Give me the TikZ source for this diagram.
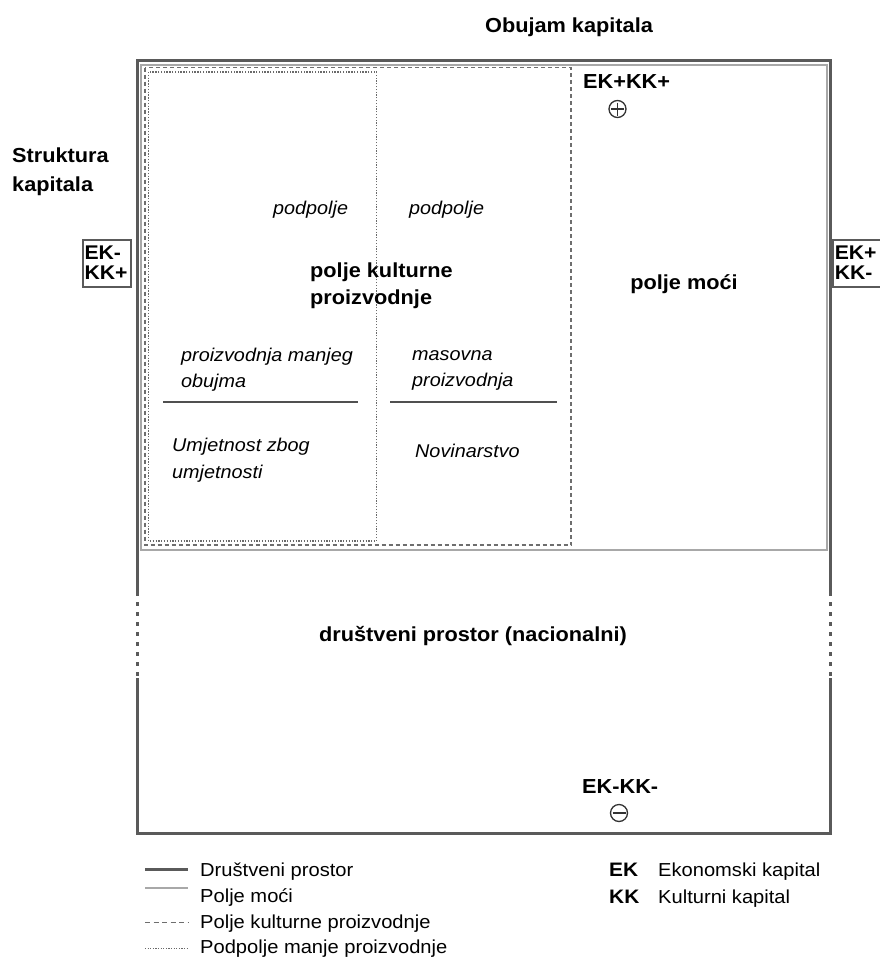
\documentclass[tikz,border=0pt]{standalone}
\usepackage{fontspec}
\setmainfont{Liberation Sans}[FakeStretch=1.07]
\definecolor{outerc}{HTML}{5A5A5A}
\definecolor{lightc}{HTML}{A8A8A8}
\definecolor{dashc}{HTML}{6E6E6E}
\definecolor{dotc}{HTML}{6A6A6A}
\definecolor{rulec}{HTML}{505050}
\begin{document}
\begin{tikzpicture}[x=1pt,y=-1pt,
  bt/.style={font=\fontsize{20.3}{27}\selectfont\bfseries, inner sep=0, align=left},
  it/.style={font=\fontsize{18.5}{26}\selectfont\itshape, inner sep=0, align=left},
  lg/.style={font=\fontsize{18.8}{22}\selectfont, inner sep=0},
  lgb/.style={font=\fontsize{19.5}{22}\selectfont\bfseries, inner sep=0},
  outerline/.style={draw=outerc, line width=3},
  lightline/.style={draw=lightc, line width=2},
  dashline/.style={draw=dashc, line width=1.6, dash pattern=on 4 off 3},
  dotline/.style={draw=dotc, line width=1.2, dash pattern=on 1.3 off 1.5},
  rule/.style={draw=rulec, line width=2.2},
  sidebox/.style={draw=outerc, line width=2, minimum width=48, minimum height=47,
    text width=45, align=left, inner sep=1.5,
    font=\fontsize{19.8}{20}\selectfont\bfseries},
  sym/.style={circle, draw=black!80, line width=1.3, minimum size=17, inner sep=0}
]
\useasboundingbox (0,0) rectangle (880,961);
\clip (0,0) rectangle (880,961);
\fill[white] (0,0) rectangle (880,961);

% društveni prostor (outer)
\draw[outerline] (137,592) -- (137,60.5) -- (830,60.5) -- (830,592);
\draw[outerline] (830,678) -- (830,833) -- (137,833) -- (137,678);
\draw[outerline, dash pattern=on 4 off 6] (137,592) -- (137,678);
\draw[outerline, dash pattern=on 4 off 6] (830,592) -- (830,678);

% polje moći
\draw[lightline] (141,64.5) rectangle (826.5,549.5);
% polje kulturne proizvodnje
\draw[dashline] (145,67.5) rectangle (571,545);
% podpolje manje proizvodnje
\draw[dotline] (148.5,72) rectangle (376.5,541);

% rules under subfield titles
\draw[rule] (163,402) -- (358,402);
\draw[rule] (390,402) -- (557,402);

% titles
\node[bt, anchor=center] (obujam) at (569,27) {Obujam kapitala};
\node[bt, anchor=west, font=\fontsize{20.3}{29}\selectfont\bfseries] (struktura) at (12,171.5) {Struktura\\kapitala};

% side boxes
\node[sidebox] (left) at (107,263) {EK-\\KK+};
\node[sidebox] (right) at (857.3,263) {EK+\\KK-};

% corner labels
\node[bt, anchor=west] (pp) at (583,82) {EK+KK+};
\node[sym] (plus) at (617.5,109) {};
\draw[black!80, line width=1.1] (plus.center) ++(-6.5,0) -- ++(13,0);
\draw[black!80, line width=1.1] (plus.center) ++(0,-6.5) -- ++(0,13);

\node[bt, anchor=west] (mm) at (582,787) {EK-KK-};
\node[sym] (minus) at (619,813) {};
\draw[black!80, line width=1.1] (minus.center) ++(-6.5,0) -- ++(13,0);

% field texts
\node[it, anchor=west] (pod1) at (273,210) {podpolje};
\node[it, anchor=west] (pod2) at (409,210) {podpolje};
\node[bt, anchor=west] (pkp) at (310,285.5) {polje kulturne\\proizvodnje};
\node[bt, anchor=center] (pm) at (684,284) {polje moći};
\node[it, anchor=west] (pmo) at (181,370) {proizvodnja manjeg\\obujma};
\node[it, anchor=west] (mp) at (412,370) {masovna\\proizvodnja};
\node[it, anchor=west, font=\fontsize{18.5}{27}\selectfont\itshape] (uzu) at (172,460.5) {Umjetnost zbog\\umjetnosti};
\node[it, anchor=west] (nov) at (415,451) {Novinarstvo};
\node[bt, anchor=center] (dp) at (473,636) {društveni prostor (nacionalni)};

% legend
\draw[outerline] (145,869) -- (188,869);
\draw[lightline, line width=2.5] (145,888) -- (188,888);
\draw[draw=dashc, line width=1, dash pattern=on 5 off 3.5] (145,922.5) -- (188,922.5);
\draw[draw=dotc, line width=1, dash pattern=on 1.2 off 1.4] (145,948) -- (188,948);
\node[lg, anchor=west] (lg1) at (200,872) {Društveni prostor};
\node[lg, anchor=west] (lg2) at (200,898) {Polje moći};
\node[lg, anchor=west] (lg3) at (200,923.7) {Polje kulturne proizvodnje};
\node[lg, anchor=west] (lg4) at (200,948.7) {Podpolje manje proizvodnje};

\node[lgb, anchor=west] (ek) at (609,870) {EK};
\node[lg, anchor=west] (ekt) at (658,872) {Ekonomski kapital};
\node[lgb, anchor=west] (kk) at (609,897) {KK};
\node[lg, anchor=west] (kkt) at (658,899) {Kulturni kapital};
\end{tikzpicture}
\end{document}
